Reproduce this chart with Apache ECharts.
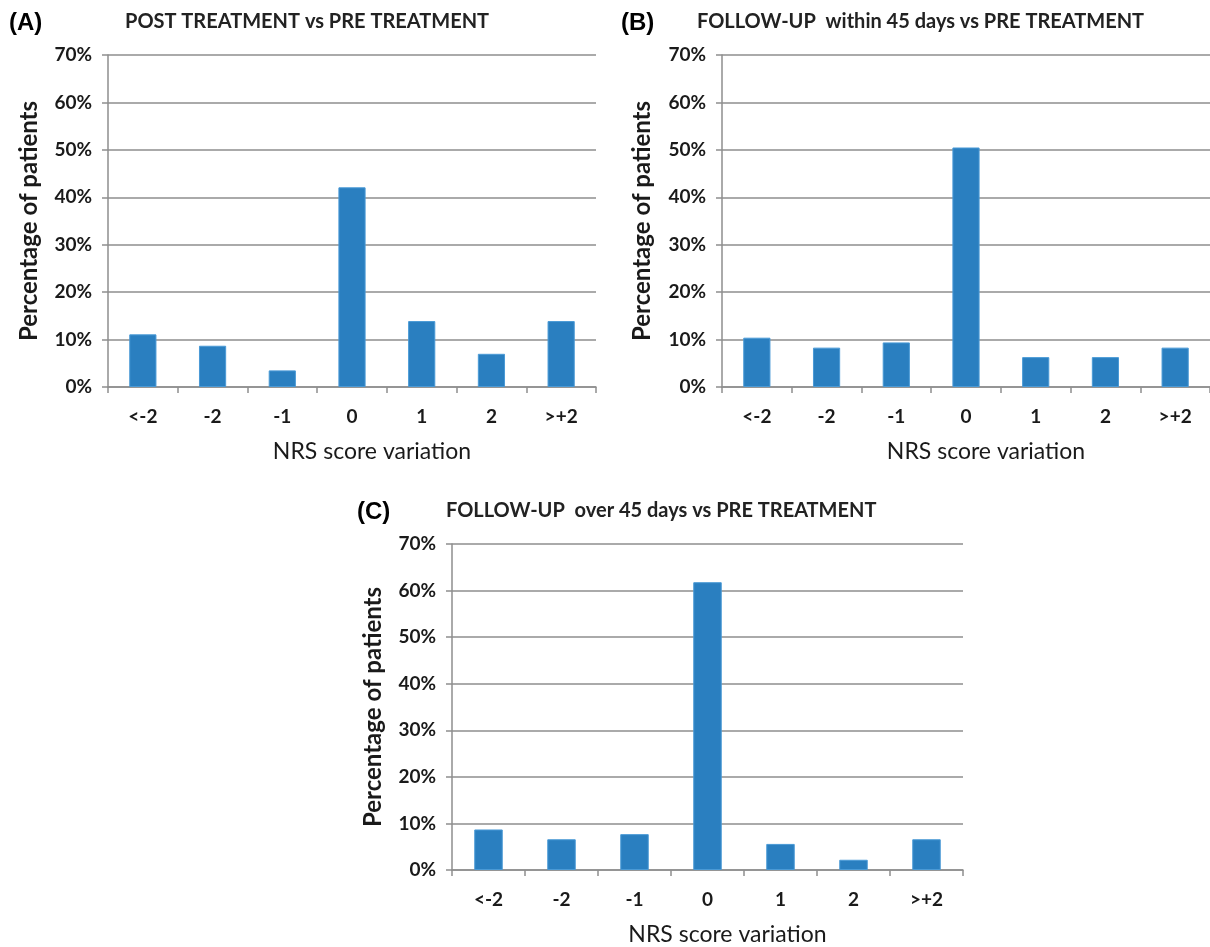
<!DOCTYPE html>
<html>
<head>
<meta charset="utf-8">
<script src="https://cdn.jsdelivr.net/npm/echarts@6/dist/echarts.min.js"></script>
<style>
html,body{margin:0;padding:0;background:#fff;}
#chart{width:1210px;height:947px;}
</style>
</head>
<body>
<div id="chart"></div>
<script>
const categories = ['<-2', '-2', '-1', '0', '1', '2', '>+2'];
const valuesA = [11.1, 8.7, 3.5, 42.1, 13.9, 7.0, 13.9];
const valuesB = [10.4, 8.3, 9.4, 50.5, 6.3, 6.3, 8.3];
const valuesC = [8.7, 6.6, 7.7, 61.8, 5.6, 2.2, 6.6];
const panelLabels = ['(A)', '(B)', '(C)'];
const panelTitles = ['POST TREATMENT vs PRE TREATMENT', 'FOLLOW-UP  within 45 days vs PRE TREATMENT', 'FOLLOW-UP  over 45 days vs PRE TREATMENT'];
const yTicks = {min: 0, max: 70, interval: 10};
const xName = 'NRS score variation';
const yName = 'Percentage of patients';

const FONT = 'Lato, "Open Sans", sans-serif';
const TXT = '#1a1a1a';
const GRID = '#8e8e8e';
const BAR = '#2a7fc0';

const grids = [
  {left: 108, top: 55, width: 488, height: 332},
  {left: 722, top: 55, width: 488, height: 332},
  {left: 452, top: 544, width: 511, height: 331}
];
const yNameGaps = [67, 68, 67];
const series = [valuesA, valuesB, valuesC];

const chart = echarts.init(document.getElementById('chart'), null, {renderer: 'canvas'});

const xAxes = grids.map((g, i) => ({
  type: 'category', gridIndex: i, data: categories,
  boundaryGap: true,
  axisLine: {lineStyle: {color: GRID, width: 1.5}},
  axisTick: {show: true, length: 6, lineStyle: {color: GRID, width: 1.5}},
  axisLabel: {color: TXT, fontFamily: FONT, fontSize: 19, fontWeight: 'bold', margin: 20},
  name: xName, nameLocation: 'middle', nameGap: 53,
  nameTextStyle: {color: TXT, fontFamily: FONT, fontSize: 23, padding: [0, 0, 0, 40]}
}));
const yAxes = grids.map((g, i) => ({
  type: 'value', gridIndex: i, min: yTicks.min, max: yTicks.max, interval: yTicks.interval,
  axisLine: {show: true, lineStyle: {color: GRID, width: 1.5}},
  axisTick: {show: true, length: 6, lineStyle: {color: GRID, width: 1.5}},
  splitLine: {show: true, lineStyle: {color: GRID, width: 1.5}},
  axisLabel: {color: TXT, fontFamily: FONT, fontSize: 19, fontWeight: 'bold', margin: 16, formatter: '{value}%'},
  name: yName, nameLocation: 'middle', nameGap: yNameGaps[i], nameRotate: 90,
  nameTextStyle: {color: TXT, fontFamily: FONT, fontSize: 24, fontWeight: 'bold'}
}));

const labelPos = [{x: 9, y: 11}, {x: 621, y: 11}, {x: 357, y: 500}];
const titlePos = [{x: 125, y: 12}, {x: 697, y: 12}, {x: 446, y: 501}];

chart.setOption({
  animation: false,
  backgroundColor: '#fff',
  title: panelTitles.map((t, i) => ({
    text: t, left: titlePos[i].x, top: titlePos[i].y, padding: 0,
    textStyle: {color: '#222', fontFamily: FONT, fontSize: 20, fontWeight: 'bold'}
  })).concat(panelLabels.map((t, i) => ({
    text: t, left: labelPos[i].x, top: labelPos[i].y, padding: 0,
    textStyle: {color: '#000', fontFamily: '"Liberation Sans", Arial, sans-serif', fontSize: 24, fontWeight: 'bold'}
  }))),
  grid: grids.map(g => Object.assign({containLabel: false}, g)),
  xAxis: xAxes,
  yAxis: yAxes,
  series: series.map((d, i) => ({
    type: 'bar', xAxisIndex: i, yAxisIndex: i, data: d,
    barWidth: '39%',
    itemStyle: {color: BAR, borderColor: '#4a9ad6', borderWidth: 1}
  }))
});
</script>
</body>
</html>
